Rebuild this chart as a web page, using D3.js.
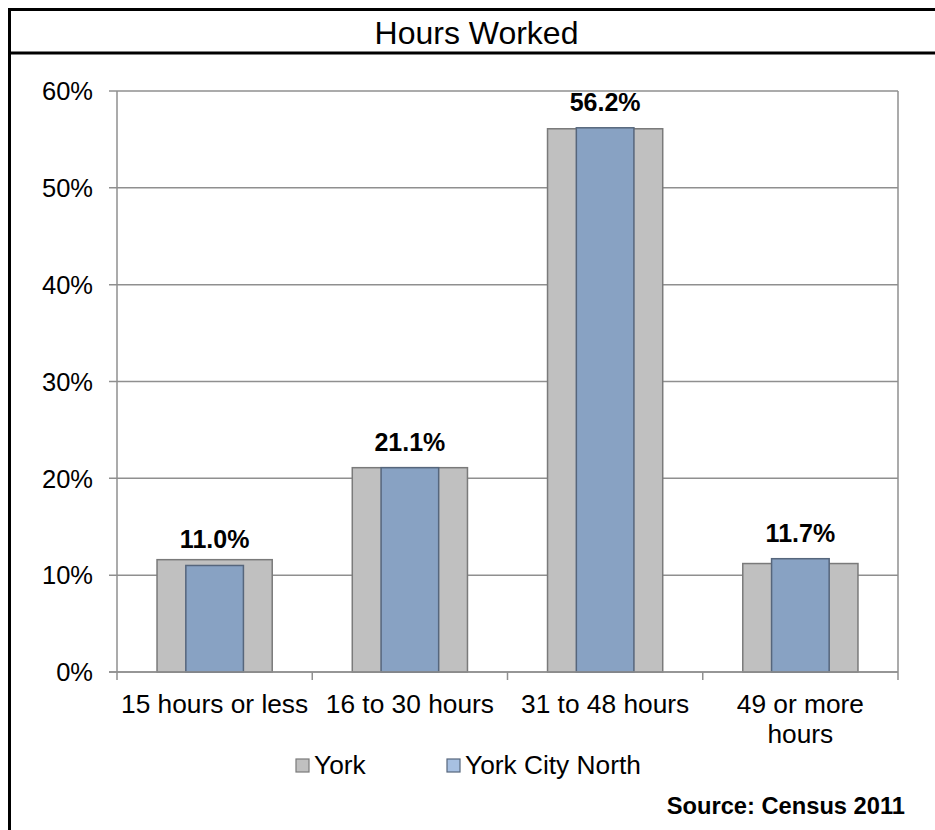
<!DOCTYPE html>
<html>
<head>
<meta charset="utf-8">
<script src="https://cdn.jsdelivr.net/npm/d3@7"></script>
<style>
    body { margin: 0; background: #fff; }
    text { font-family: "Liberation Sans", Arial, sans-serif; fill: #000; }
    .tick-label { font-size: 26.3px; }
    .y-label { font-size: 25.5px; }
    .value-label { font-size: 25px; font-weight: bold; }
</style>
</head>
<body>
<div id="chart"></div>
<script>
//////////////////////////////////////////////////////////////
//////////////////////////// Data ////////////////////////////
//////////////////////////////////////////////////////////////

const categories = ["15 hours or less", "16 to 30 hours", "31 to 48 hours", "49 or more hours"]
const categoryLines = [["15 hours or less"], ["16 to 30 hours"], ["31 to 48 hours"], ["49 or more", "hours"]]
const seriesNames = ["York", "York City North"]
const yorkValues = [11.6, 21.1, 56.1, 11.2]
const northValues = [11.0, 21.1, 56.2, 11.7]
const yTicks = [0, 10, 20, 30, 40, 50, 60]

const title = "Hours Worked"
const source = "Source: Census 2011"

//Colors
const colorYork = "#c0c0c0"
const colorYorkStroke = "#7a7a7a"
const colorNorth = "#88a2c3"
const colorNorthLegend = "#a7c0e2"
const colorNorthStroke = "#56667c"
const gridColor = "#8f8f8f"

//////////////////////////////////////////////////////////////
///////////////////////// Create SVG /////////////////////////
//////////////////////////////////////////////////////////////

const width = 935
const height = 830
const plot = { left: 117, right: 898, top: 91, bottom: 672 }

const svg = d3.select("#chart").append("svg")
    .attr("width", width)
    .attr("height", height)

//Frame around the chart
svg.append("line")
    .attr("x1", 8).attr("x2", width).attr("y1", 9.5).attr("y2", 9.5)
    .style("stroke", "#000").style("stroke-width", 3)
svg.append("line")
    .attr("x1", 8).attr("x2", width).attr("y1", 53).attr("y2", 53)
    .style("stroke", "#000").style("stroke-width", 3)
svg.append("line")
    .attr("x1", 9.5).attr("x2", 9.5).attr("y1", 8).attr("y2", height)
    .style("stroke", "#000").style("stroke-width", 3)

svg.append("text")
    .attr("x", 476.5)
    .attr("y", 44)
    .attr("text-anchor", "middle")
    .style("font-size", "32px")
    .text(title)

//////////////////////////////////////////////////////////////
/////////////////////////// Scales ///////////////////////////
//////////////////////////////////////////////////////////////

const x = d3.scaleBand()
    .domain(categories)
    .range([plot.left, plot.right])
    .padding(0)

const y = d3.scaleLinear()
    .domain([0, 60])
    .range([plot.bottom, plot.top])

const yorkWidth = x.bandwidth() * 0.59
const northWidth = yorkWidth / 2

//////////////////////////////////////////////////////////////
////////////////////////// Gridlines /////////////////////////
//////////////////////////////////////////////////////////////

const grid = svg.append("g").attr("class", "gridline-group")

grid.selectAll(".grid-line")
    .data(yTicks)
    .enter().append("line")
    .attr("class", "grid-line")
    .attr("x1", plot.left - 8)
    .attr("x2", plot.right)
    .attr("y1", d => y(d))
    .attr("y2", d => y(d))
    .style("stroke", gridColor)
    .style("stroke-width", 1.5)

grid.selectAll(".y-label")
    .data(yTicks)
    .enter().append("text")
    .attr("class", "tick-label y-label")
    .attr("x", 93)
    .attr("y", d => y(d))
    .attr("dy", "0.36em")
    .attr("text-anchor", "end")
    .text(d => d + "%")

//Left axis and right border
grid.append("line")
    .attr("x1", plot.left).attr("x2", plot.left)
    .attr("y1", plot.top).attr("y2", plot.bottom + 8)
    .style("stroke", gridColor).style("stroke-width", 1.5)
grid.append("line")
    .attr("x1", plot.right).attr("x2", plot.right)
    .attr("y1", plot.top).attr("y2", plot.bottom + 8)
    .style("stroke", gridColor).style("stroke-width", 1.5)

//Category tick marks
grid.selectAll(".x-tick")
    .data(categories.slice(1))
    .enter().append("line")
    .attr("class", "x-tick")
    .attr("x1", d => x(d)).attr("x2", d => x(d))
    .attr("y1", plot.bottom).attr("y2", plot.bottom + 8)
    .style("stroke", gridColor).style("stroke-width", 1.5)

//////////////////////////////////////////////////////////////
//////////////////////////// Bars ////////////////////////////
//////////////////////////////////////////////////////////////

const bars = svg.append("g").attr("class", "bar-group")

bars.selectAll(".bar-york")
    .data(categories)
    .enter().append("rect")
    .attr("class", "bar-york")
    .attr("x", d => x(d) + x.bandwidth()/2 - yorkWidth/2)
    .attr("width", yorkWidth)
    .attr("y", (d,i) => y(yorkValues[i]))
    .attr("height", (d,i) => y(0) - y(yorkValues[i]))
    .style("fill", colorYork)
    .style("stroke", colorYorkStroke)
    .style("stroke-width", 1.5)

bars.selectAll(".bar-north")
    .data(categories)
    .enter().append("rect")
    .attr("class", "bar-north")
    .attr("x", d => x(d) + x.bandwidth()/2 - northWidth/2)
    .attr("width", northWidth)
    .attr("y", (d,i) => y(northValues[i]))
    .attr("height", (d,i) => y(0) - y(northValues[i]))
    .style("fill", colorNorth)
    .style("stroke", colorNorthStroke)
    .style("stroke-width", 1.5)

//Redraw the baseline on top of the bars
svg.append("line")
    .attr("x1", plot.left - 8).attr("x2", plot.right)
    .attr("y1", y(0)).attr("y2", y(0))
    .style("stroke", gridColor).style("stroke-width", 1.5)

bars.selectAll(".value-label")
    .data(categories)
    .enter().append("text")
    .attr("class", "value-label")
    .attr("x", d => x(d) + x.bandwidth()/2)
    .attr("y", (d,i) => y(northValues[i]) - 17)
    .attr("text-anchor", "middle")
    .text((d,i) => northValues[i].toFixed(1) + "%")

//////////////////////////////////////////////////////////////
/////////////////////// Category labels //////////////////////
//////////////////////////////////////////////////////////////

const xLabels = svg.append("g").attr("class", "x-label-group")

xLabels.selectAll(".x-label")
    .data(categories)
    .enter().append("text")
    .attr("class", "tick-label x-label")
    .attr("text-anchor", "middle")
    .each(function(d,i) {
        d3.select(this).selectAll("tspan")
            .data(categoryLines[i])
            .enter().append("tspan")
            .attr("x", x(d) + x.bandwidth()/2)
            .attr("y", (t,j) => 713 + j * 30)
            .text(t => t)
    })

//////////////////////////////////////////////////////////////
/////////////////////////// Legend ///////////////////////////
//////////////////////////////////////////////////////////////

const legendX = [296, 447]
const legendFill = [colorYork, colorNorthLegend]
const legendStroke = [colorYorkStroke, colorNorthStroke]

const legend = svg.append("g").attr("class", "legend-group")

legend.selectAll(".legend-box")
    .data(seriesNames)
    .enter().append("rect")
    .attr("class", "legend-box")
    .attr("x", (d,i) => legendX[i])
    .attr("y", 759)
    .attr("width", 13)
    .attr("height", 13)
    .style("fill", (d,i) => legendFill[i])
    .style("stroke", (d,i) => legendStroke[i])
    .style("stroke-width", 1.2)

legend.selectAll(".legend-text")
    .data(seriesNames)
    .enter().append("text")
    .attr("class", "tick-label legend-text")
    .attr("x", (d,i) => legendX[i] + 18)
    .attr("y", 774)
    .text(d => d)

svg.append("text")
    .attr("x", 905)
    .attr("y", 814)
    .attr("text-anchor", "end")
    .style("font-size", "23.7px")
    .style("font-weight", "bold")
    .text(source)
</script>
</body>
</html>
